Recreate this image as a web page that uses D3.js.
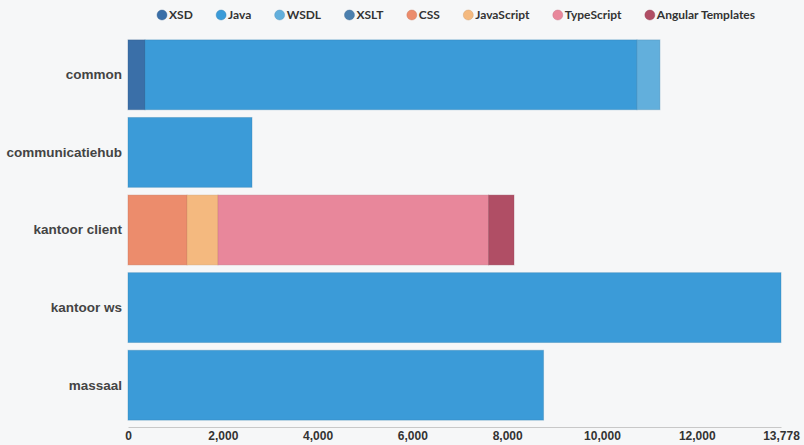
<!DOCTYPE html>
<html><head><meta charset="utf-8">
<script src="https://cdn.jsdelivr.net/npm/d3@7"></script>
<style>
html,body{margin:0;padding:0;background:#f6f7f8;}
svg{display:block;font-family:Lato,"Open Sans",sans-serif;}
</style></head>
<body><svg id="c" width="804" height="445"></svg>
<script>
const categories = ["common","communicatiehub","kantoor client","kantoor ws","massaal"];
const seriesNames = ["XSD","Java","WSDL","XSLT","CSS","JavaScript","TypeScript","Angular Templates"];
const seriesColors = ["#3a6fa8","#3b9bd8","#62afdc","#4b7fae","#ec8c6c","#f4b97f","#e8879b","#b04e65"];
const XSD        = [359, 0, 0, 0, 0];
const Java       = [10380, 2616, 0, 13778, 8768];
const WSDL       = [485, 0, 0, 0, 0];
const XSLT       = [0, 0, 0, 0, 0];
const CSS        = [0, 0, 1245, 0, 0];
const JavaScript = [0, 0, 654, 0, 0];
const TypeScript = [0, 0, 5709, 0, 0];
const Angular    = [0, 0, 536, 0, 0];
const tickValues = [0,2000,4000,6000,8000,10000,12000,13778];

const seriesVals = [XSD,Java,WSDL,XSLT,CSS,JavaScript,TypeScript,Angular];
const rows = categories.map((c,i)=>{const o={cat:c}; seriesNames.forEach((s,j)=>o[s]=seriesVals[j][i]); return o;});
const stack = d3.stack().keys(seriesNames)(rows);

const svg = d3.select("#c");
const x = d3.scaleLinear().domain([0, 13778]).range([128, 781]);
const y = d3.scaleBand().domain(categories).range([36, 424]).paddingInner(0.1).paddingOuter(0.05);
const color = d3.scaleOrdinal().domain(seriesNames).range(seriesColors);

svg.append("g").selectAll("g").data(stack).join("g")
  .attr("fill", d=>color(d.key))
  .attr("stroke", d=>d3.color(color(d.key)).darker(0.6))
  .attr("stroke-opacity",0.35)
  .selectAll("rect").data(d=>d.filter(p=>p[1]-p[0]>0)).join("rect")
  .attr("x", d=>x(d[0])).attr("width", d=>x(d[1])-x(d[0]))
  .attr("y", d=>y(d.data.cat)).attr("height", y.bandwidth());

// x axis
const xa = svg.append("g").attr("transform","translate(0,427)")
  .call(d3.axisBottom(x).tickValues(tickValues).tickSize(0).tickPadding(6).tickFormat(d3.format(",")));
xa.select(".domain").attr("stroke","#c8c8c8");
xa.selectAll("text").attr("fill","#333").style("font-size","12px").style("font-weight","bold").attr("dy","0.6em");

// y labels
const ya = svg.append("g").attr("transform","translate(128,0)")
  .call(d3.axisLeft(y).tickSize(0).tickPadding(6));
ya.select(".domain").remove();
ya.selectAll("text").attr("fill","#444").style("font-size","13.5px").style("font-weight","bold");

// legend
const lg = svg.append("g");
const items = lg.selectAll("g").data(seriesNames).join("g");
items.append("circle").attr("r",5).attr("fill",d=>color(d)).attr("stroke",d=>d3.color(color(d)).darker(0.5)).attr("stroke-opacity",0.4);
items.append("text").text(d=>d).attr("x",7).attr("dy","0.35em")
  .style("font-size","12px").style("font-weight","bold").attr("fill","#333");
const widths = [];
items.each(function(){widths.push(d3.select(this).select("text").node().getComputedTextLength());});
const start = 162, end = 755;
const sumW = widths.reduce((a,b)=>a+b,0) + seriesNames.length*7;
const g = (end - start - sumW) / (seriesNames.length-1);
let cx = start;
items.each(function(d,i){ d3.select(this).attr("transform",`translate(${cx},15)`); cx += 7 + widths[i] + g; });
</script></body></html>
